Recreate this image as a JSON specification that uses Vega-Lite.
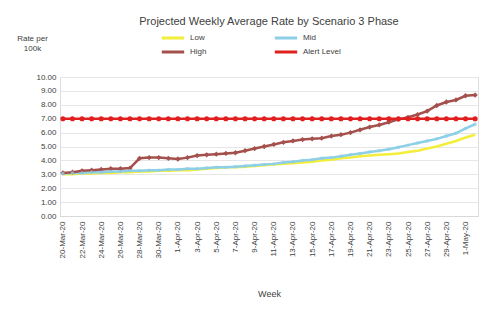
{
  "$schema": "https://vega.github.io/schema/vega-lite/v6.json",
  "autosize": {"type": "none"},
  "width": 418,
  "height": 139,
  "padding": {"left": 60, "top": 77, "right": 19, "bottom": 94},
  "background": "white",
  "title": {"text": "Projected Weekly Average Rate by Scenario 3 Phase", "fontSize": 11, "font": "Liberation Sans", "fontWeight": "normal", "color": "#404040", "offset": 6, "anchor": "middle"},
  "data": {"values": [
    {"d":"20-Mar-20","Low":3.0,"Mid":3.05,"High":3.1,"Alert Level":7},
    {"d":"21-Mar-20","Low":3.0,"Mid":3.1,"High":3.15,"Alert Level":7},
    {"d":"22-Mar-20","Low":3.05,"Mid":3.1,"High":3.25,"Alert Level":7},
    {"d":"23-Mar-20","Low":3.05,"Mid":3.15,"High":3.3,"Alert Level":7},
    {"d":"24-Mar-20","Low":3.1,"Mid":3.15,"High":3.35,"Alert Level":7},
    {"d":"25-Mar-20","Low":3.1,"Mid":3.2,"High":3.4,"Alert Level":7},
    {"d":"26-Mar-20","Low":3.15,"Mid":3.2,"High":3.4,"Alert Level":7},
    {"d":"27-Mar-20","Low":3.15,"Mid":3.25,"High":3.45,"Alert Level":7},
    {"d":"28-Mar-20","Low":3.2,"Mid":3.25,"High":4.15,"Alert Level":7},
    {"d":"29-Mar-20","Low":3.2,"Mid":3.3,"High":4.2,"Alert Level":7},
    {"d":"30-Mar-20","Low":3.25,"Mid":3.3,"High":4.2,"Alert Level":7},
    {"d":"31-Mar-20","Low":3.25,"Mid":3.35,"High":4.15,"Alert Level":7},
    {"d":"1-Apr-20","Low":3.3,"Mid":3.35,"High":4.1,"Alert Level":7},
    {"d":"2-Apr-20","Low":3.3,"Mid":3.4,"High":4.2,"Alert Level":7},
    {"d":"3-Apr-20","Low":3.35,"Mid":3.4,"High":4.35,"Alert Level":7},
    {"d":"4-Apr-20","Low":3.4,"Mid":3.45,"High":4.4,"Alert Level":7},
    {"d":"5-Apr-20","Low":3.45,"Mid":3.5,"High":4.45,"Alert Level":7},
    {"d":"6-Apr-20","Low":3.5,"Mid":3.5,"High":4.5,"Alert Level":7},
    {"d":"7-Apr-20","Low":3.5,"Mid":3.55,"High":4.55,"Alert Level":7},
    {"d":"8-Apr-20","Low":3.55,"Mid":3.6,"High":4.7,"Alert Level":7},
    {"d":"9-Apr-20","Low":3.6,"Mid":3.65,"High":4.85,"Alert Level":7},
    {"d":"10-Apr-20","Low":3.65,"Mid":3.7,"High":5.0,"Alert Level":7},
    {"d":"11-Apr-20","Low":3.7,"Mid":3.75,"High":5.15,"Alert Level":7},
    {"d":"12-Apr-20","Low":3.75,"Mid":3.85,"High":5.3,"Alert Level":7},
    {"d":"13-Apr-20","Low":3.8,"Mid":3.9,"High":5.4,"Alert Level":7},
    {"d":"14-Apr-20","Low":3.85,"Mid":4.0,"High":5.5,"Alert Level":7},
    {"d":"15-Apr-20","Low":3.9,"Mid":4.05,"High":5.55,"Alert Level":7},
    {"d":"16-Apr-20","Low":4.0,"Mid":4.15,"High":5.6,"Alert Level":7},
    {"d":"17-Apr-20","Low":4.05,"Mid":4.2,"High":5.75,"Alert Level":7},
    {"d":"18-Apr-20","Low":4.15,"Mid":4.3,"High":5.85,"Alert Level":7},
    {"d":"19-Apr-20","Low":4.2,"Mid":4.4,"High":6.0,"Alert Level":7},
    {"d":"20-Apr-20","Low":4.3,"Mid":4.5,"High":6.2,"Alert Level":7},
    {"d":"21-Apr-20","Low":4.35,"Mid":4.6,"High":6.4,"Alert Level":7},
    {"d":"22-Apr-20","Low":4.4,"Mid":4.7,"High":6.55,"Alert Level":7},
    {"d":"23-Apr-20","Low":4.45,"Mid":4.8,"High":6.75,"Alert Level":7},
    {"d":"24-Apr-20","Low":4.5,"Mid":4.95,"High":6.95,"Alert Level":7},
    {"d":"25-Apr-20","Low":4.6,"Mid":5.1,"High":7.1,"Alert Level":7},
    {"d":"26-Apr-20","Low":4.7,"Mid":5.25,"High":7.3,"Alert Level":7},
    {"d":"27-Apr-20","Low":4.85,"Mid":5.4,"High":7.55,"Alert Level":7},
    {"d":"28-Apr-20","Low":5.0,"Mid":5.55,"High":7.95,"Alert Level":7},
    {"d":"29-Apr-20","Low":5.2,"Mid":5.75,"High":8.2,"Alert Level":7},
    {"d":"30-Apr-20","Low":5.4,"Mid":5.95,"High":8.35,"Alert Level":7},
    {"d":"1-May-20","Low":5.65,"Mid":6.3,"High":8.65,"Alert Level":7},
    {"d":"2-May-20","Low":5.85,"Mid":6.6,"High":8.7,"Alert Level":7}
  ]},
  "transform": [{"fold": ["Low", "Mid", "High", "Alert Level"], "as": ["series", "value"]}],
  "encoding": {
    "x": {"field": "d", "type": "ordinal", "sort": null, "scale": {"type": "point", "padding": 0.3},
      "axis": {"title": "Week", "titleFont": "Liberation Sans", "titleFontSize": 9, "titleFontWeight": "normal", "titleColor": "#404040", "titlePadding": 32,
        "labelAngle": -90, "labelFont": "Liberation Sans", "labelFontSize": 8, "labelColor": "#404040", "ticks": false, "domain": true, "domainColor": "#d9d9d9", "grid": false, "labelPadding": 5,
        "values": ["20-Mar-20","22-Mar-20","24-Mar-20","26-Mar-20","28-Mar-20","30-Mar-20","1-Apr-20","3-Apr-20","5-Apr-20","7-Apr-20","9-Apr-20","11-Apr-20","13-Apr-20","15-Apr-20","17-Apr-20","19-Apr-20","21-Apr-20","23-Apr-20","25-Apr-20","27-Apr-20","29-Apr-20","1-May-20"]}},
    "y": {"field": "value", "type": "quantitative", "scale": {"domain": [0, 10], "nice": false},
      "axis": {"values": [0,1,2,3,4,5,6,7,8,9,10], "format": ".2f", "labelFont": "Liberation Sans", "labelFontSize": 8, "labelColor": "#404040", "ticks": false, "domain": false, "gridColor": "#e6e6e6", "labelPadding": 4,
        "title": ["Rate per", "100k"], "titleFont": "Liberation Sans", "titleFontSize": 8, "titleFontWeight": "normal", "titleColor": "#404040", "titleAngle": 0, "titleAlign": "center", "titleBaseline": "top", "titleX": -28, "titleY": -43}},
    "color": {"field": "series", "type": "nominal", "scale": {"domain": ["Low", "High", "Mid", "Alert Level"], "range": ["#f2ee3a", "#a4504c", "#8ccfe6", "#e0201f"]},
      "legend": {"title": null, "orient": "none", "legendX": 100, "legendY": -44, "columns": 2, "columnPadding": 66, "rowPadding": 4, "clipHeight": 10, "symbolType": "stroke", "symbolStrokeWidth": 3, "symbolSize": 500, "labelFont": "Liberation Sans", "labelFontSize": 8, "labelColor": "#404040", "labelLimit": 80}}
  },
  "layer": [
    {"mark": {"type": "line", "strokeWidth": 2.5}},
    {"transform": [{"filter": "datum.series === 'High'"}], "mark": {"type": "point", "filled": true, "size": 28, "opacity": 1, "shape": "diamond"}},
    {"transform": [{"filter": "datum.series === 'Alert Level'"}], "mark": {"type": "point", "filled": true, "size": 26, "opacity": 1, "shape": "circle"}},
    {"transform": [{"filter": "datum.series === 'Mid'"}], "mark": {"type": "point", "filled": true, "size": 12, "opacity": 0.8}}
  ]
}
